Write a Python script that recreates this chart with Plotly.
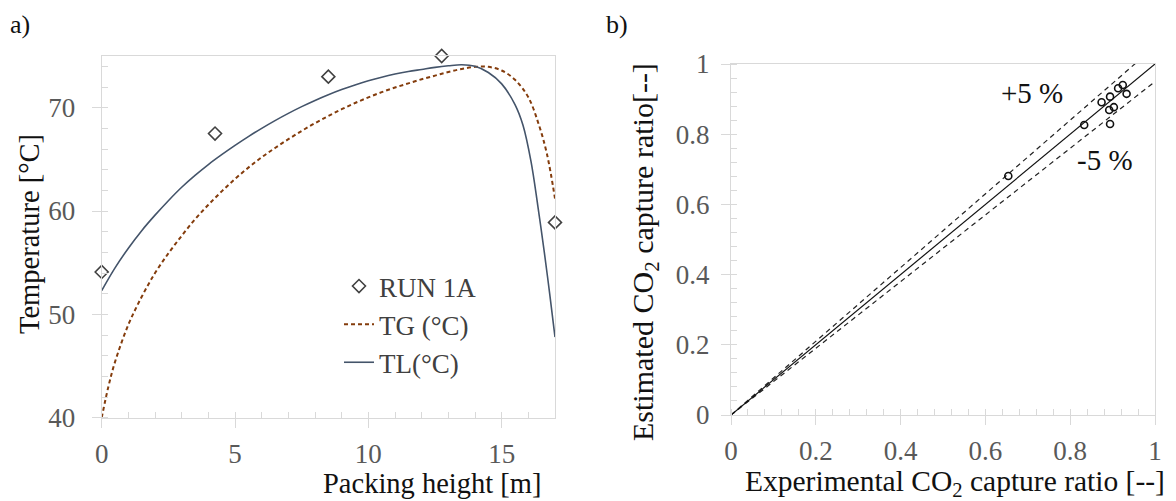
import plotly.graph_objects as go

# ---------------- data: panel a ----------------
run_x = [0, 4.25, 8.5, 12.75, 17]
run_y = [54.1, 67.5, 73.0, 75.0, 58.9]

tl_x = [0, 0.5, 1, 1.5, 2, 2.5, 3, 3.5, 4, 4.5, 5, 5.5, 6, 6.5, 7, 7.5, 8, 8.5, 9, 9.5,
        10, 10.5, 11, 11.5, 12, 12.5, 13, 13.5, 14, 14.5, 15, 15.5, 15.8, 16.1, 16.35,
        16.6, 16.8, 17]
tl_y = [52.3, 54.5, 56.4, 58.1, 59.6, 61.0, 62.3, 63.45, 64.5, 65.45, 66.35, 67.2, 68.0,
        68.75, 69.45, 70.1, 70.7, 71.25, 71.75, 72.2, 72.6, 72.95, 73.25, 73.5, 73.7,
        73.9, 74.05, 74.15, 74.0, 73.4, 72.3, 70.3, 68.3, 64.8, 60.6, 56.0, 52.0, 47.8]

tg_x = [0, 0.25, 0.5, 1, 1.5, 2, 2.5, 3, 3.5, 4, 4.5, 5, 5.5, 6, 6.5, 7, 7.5, 8, 8.5, 9,
        9.5, 10, 10.5, 11, 11.5, 12, 12.5, 13, 13.5, 14, 14.5, 15, 15.5, 16, 16.4, 16.7, 17]
tg_y = [40.0, 43.0, 45.4, 49.0, 51.7, 54.0, 55.9, 57.6, 59.2, 60.6, 61.9, 63.1, 64.2,
        65.2, 66.1, 66.95, 67.75, 68.5, 69.2, 69.85, 70.45, 71.0, 71.5, 71.95, 72.35,
        72.75, 73.1, 73.45, 73.75, 73.95, 73.95, 73.6, 72.7, 71.0, 68.3, 65.5, 61.2]

# ---------------- data: panel b ----------------
exp_x = [0.654, 0.833, 0.874, 0.894, 0.892, 0.903, 0.894, 0.913, 0.924, 0.933]
est_y = [0.681, 0.826, 0.891, 0.907, 0.869, 0.877, 0.829, 0.931, 0.940, 0.915]

parity_x = [0, 1]
parity_y = [0, 1]
plus5_x = [0, 1]
plus5_y = [0, 1.05]
minus5_x = [0, 1]
minus5_y = [0, 0.95]

FONT = "Liberation Serif, Times New Roman, serif"
TICKC = "#595959"
AXC = "#d9d9d9"

fig = go.Figure()

fig.add_trace(go.Scatter(x=run_x, y=run_y, mode="markers", name="RUN 1A",
                         marker=dict(symbol="diamond-open", size=10, color="#404040",
                                     line=dict(width=1.6, color="#404040")),
                         xaxis="x", yaxis="y", cliponaxis=False))
fig.add_trace(go.Scatter(x=tg_x, y=tg_y, mode="lines", name="TG (°C)",
                         line=dict(color="#843C0C", width=2, dash="4px,3px", shape="spline"),
                         xaxis="x", yaxis="y"))
fig.add_trace(go.Scatter(x=tl_x, y=tl_y, mode="lines", name="TL(°C)",
                         line=dict(color="#44546A", width=1.6, shape="spline"),
                         xaxis="x", yaxis="y"))

fig.add_trace(go.Scatter(x=plus5_x, y=plus5_y, mode="lines", showlegend=False,
                         line=dict(color="#222222", width=1.2, dash="5px,4px"),
                         xaxis="x2", yaxis="y2"))
fig.add_trace(go.Scatter(x=minus5_x, y=minus5_y, mode="lines", showlegend=False,
                         line=dict(color="#222222", width=1.2, dash="5px,4px"),
                         xaxis="x2", yaxis="y2"))
fig.add_trace(go.Scatter(x=parity_x, y=parity_y, mode="lines", showlegend=False,
                         line=dict(color="#111111", width=1.2),
                         xaxis="x2", yaxis="y2"))
fig.add_trace(go.Scatter(x=exp_x, y=est_y, mode="markers", showlegend=False,
                         marker=dict(symbol="circle-open", size=7, color="#111111",
                                     line=dict(width=1.6, color="#111111")),
                         xaxis="x2", yaxis="y2"))

# page body has an 8px margin: figure is drawn at (8, 8) in the window
OFF = 8
W, H = 1160, 493


def px_x(p):
    return (p - OFF) / W


def px_y(p):
    return 1 - (p - OFF) / H


axis_common = dict(showgrid=False, zeroline=False, showline=True, linecolor=AXC, linewidth=1,
                   mirror=True, ticks="outside", ticklen=9, tickcolor=AXC, tickwidth=1,
                   automargin=False,
                   tickfont=dict(family=FONT, size=27, color=TICKC))

fig.update_layout(
    width=W, height=H, margin=dict(l=0, r=0, t=0, b=0, autoexpand=False),
    paper_bgcolor="white", plot_bgcolor="white",
    font=dict(family=FONT),
    showlegend=True,
    legend=dict(x=px_x(339), y=px_y(262), xanchor="left", yanchor="top",
                bgcolor="rgba(0,0,0,0)", font=dict(family=FONT, size=27, color="#404040"),
                tracegroupgap=0, itemwidth=30),
    xaxis=dict(domain=[px_x(101.7), px_x(555)], range=[0, 17], dtick=5, tick0=0,
               minor=dict(dtick=1, ticks="inside", ticklen=6, tickcolor=AXC),
               anchor="y", ticklabelstandoff=3, **axis_common),
    yaxis=dict(domain=[px_y(417.7), px_y(56)], range=[40, 75], dtick=10, tick0=40,
               minor=dict(dtick=2, ticks="inside", ticklen=6, tickcolor=AXC),
               anchor="x", ticklabelstandoff=11, **axis_common),
    xaxis2=dict(domain=[px_x(731), px_x(1155)], range=[0, 1], dtick=0.2, tick0=0,
                minor=dict(dtick=0.04, ticks="inside", ticklen=6, tickcolor=AXC),
                anchor="y2", ticklabelstandoff=3, **axis_common),
    yaxis2=dict(domain=[px_y(415), px_y(64)], range=[0, 1], dtick=0.2, tick0=0,
                minor=dict(dtick=0.04, ticks="inside", ticklen=6, tickcolor=AXC),
                anchor="x2", ticklabelstandoff=6, **axis_common),
)

ann = [
    dict(text="a)", x=px_x(20), y=px_y(24), font=dict(size=26, color="#111111")),
    dict(text="b)", x=px_x(617), y=px_y(24), font=dict(size=26, color="#111111")),
    dict(text="Temperature [°C]", x=px_x(29), y=px_y(234), textangle=-90,
         font=dict(size=28.5, color="#111111")),
    dict(text="Packing height [m]", x=px_x(432), y=px_y(483),
         font=dict(size=28.5, color="#111111")),
    dict(text="Estimated CO<sub>2</sub> capture ratio[--]", x=px_x(645), y=px_y(252),
         textangle=-90, font=dict(size=30, color="#111111")),
    dict(text="Experimental CO<sub>2</sub> capture ratio [--]", x=px_x(955), y=px_y(483),
         font=dict(size=29.5, color="#111111")),
    dict(text="+5 %", x=px_x(1032), y=px_y(93), font=dict(size=29, color="#111111")),
    dict(text="-5 %", x=px_x(1105), y=px_y(160), font=dict(size=29, color="#111111")),
]
for a in ann:
    a.setdefault("xref", "paper")
    a.setdefault("yref", "paper")
    a["showarrow"] = False
    a["xanchor"] = "center"
    a["yanchor"] = "middle"
    a["font"]["family"] = FONT
fig.update_layout(annotations=ann)

fig.write_html("out.html")
